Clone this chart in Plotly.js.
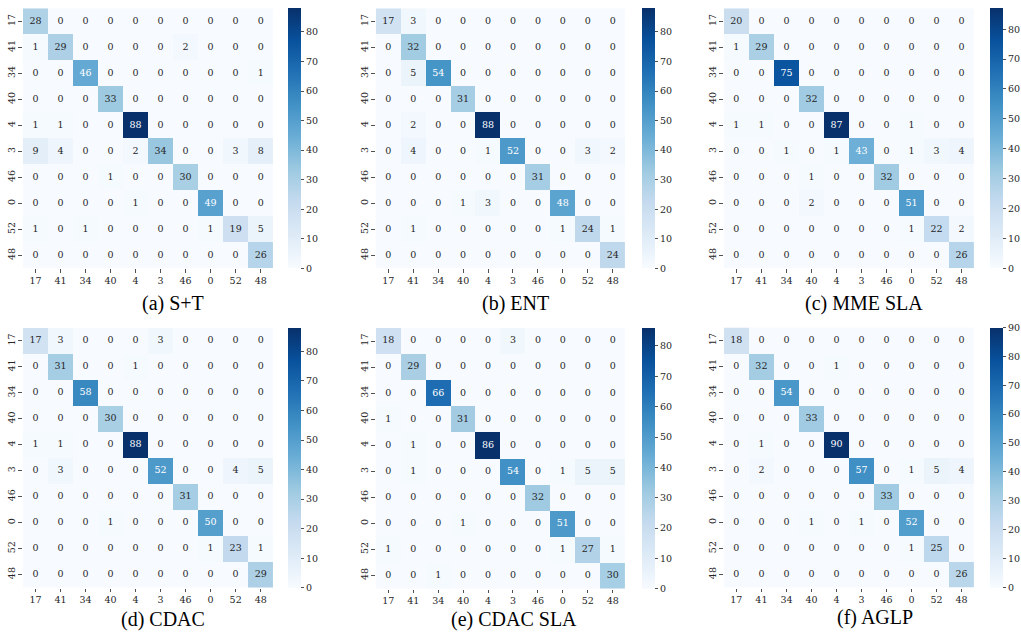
<!DOCTYPE html>
<html>
<head>
<meta charset="utf-8">
<script src="https://cdn.plot.ly/plotly-3.0.1.min.js"></script>
<style>html,body{margin:0;padding:0;background:#fff;}#chart{width:1021px;height:638px;}</style>
</head>
<body>
<div id="chart"></div>
<script>
// ---- data ----
const classLabels = ['17','41','34','40','4','3','46','0','52','48'];

const cmST = [
  [28,0,0,0,0,0,0,0,0,0],
  [1,29,0,0,0,0,2,0,0,0],
  [0,0,46,0,0,0,0,0,0,1],
  [0,0,0,33,0,0,0,0,0,0],
  [1,1,0,0,88,0,0,0,0,0],
  [9,4,0,0,2,34,0,0,3,8],
  [0,0,0,1,0,0,30,0,0,0],
  [0,0,0,0,1,0,0,49,0,0],
  [1,0,1,0,0,0,0,1,19,5],
  [0,0,0,0,0,0,0,0,0,26]
];
const cmENT = [
  [17,3,0,0,0,0,0,0,0,0],
  [0,32,0,0,0,0,0,0,0,0],
  [0,5,54,0,0,0,0,0,0,0],
  [0,0,0,31,0,0,0,0,0,0],
  [0,2,0,0,88,0,0,0,0,0],
  [0,4,0,0,1,52,0,0,3,2],
  [0,0,0,0,0,0,31,0,0,0],
  [0,0,0,1,3,0,0,48,0,0],
  [0,1,0,0,0,0,0,1,24,1],
  [0,0,0,0,0,0,0,0,0,24]
];
const cmMMESLA = [
  [20,0,0,0,0,0,0,0,0,0],
  [1,29,0,0,0,0,0,0,0,0],
  [0,0,75,0,0,0,0,0,0,0],
  [0,0,0,32,0,0,0,0,0,0],
  [1,1,0,0,87,0,0,1,0,0],
  [0,0,1,0,1,43,0,1,3,4],
  [0,0,0,1,0,0,32,0,0,0],
  [0,0,0,2,0,0,0,51,0,0],
  [0,0,0,0,0,0,0,1,22,2],
  [0,0,0,0,0,0,0,0,0,26]
];
const cmCDAC = [
  [17,3,0,0,0,3,0,0,0,0],
  [0,31,0,0,1,0,0,0,0,0],
  [0,0,58,0,0,0,0,0,0,0],
  [0,0,0,30,0,0,0,0,0,0],
  [1,1,0,0,88,0,0,0,0,0],
  [0,3,0,0,0,52,0,0,4,5],
  [0,0,0,0,0,0,31,0,0,0],
  [0,0,0,1,0,0,0,50,0,0],
  [0,0,0,0,0,0,0,1,23,1],
  [0,0,0,0,0,0,0,0,0,29]
];
const cmCDACSLA = [
  [18,0,0,0,0,3,0,0,0,0],
  [0,29,0,0,0,0,0,0,0,0],
  [0,0,66,0,0,0,0,0,0,0],
  [1,0,0,31,0,0,0,0,0,0],
  [0,1,0,0,86,0,0,0,0,0],
  [0,1,0,0,0,54,0,1,5,5],
  [0,0,0,0,0,0,32,0,0,0],
  [0,0,0,1,0,0,0,51,0,0],
  [1,0,0,0,0,0,0,1,27,1],
  [0,0,1,0,0,0,0,0,0,30]
];
const cmAGLP = [
  [18,0,0,0,0,0,0,0,0,0],
  [0,32,0,0,1,0,0,0,0,0],
  [0,0,54,0,0,0,0,0,0,0],
  [0,0,0,33,0,0,0,0,0,0],
  [0,1,0,0,90,0,0,0,0,0],
  [0,2,0,0,0,57,0,1,5,4],
  [0,0,0,0,0,0,33,0,0,0],
  [0,0,0,1,0,1,0,52,0,0],
  [0,0,0,0,0,0,0,1,25,0],
  [0,0,0,0,0,0,0,0,0,26]
];
const captions = ['(a) S+T','(b) ENT','(c) MME SLA','(d) CDAC','(e) CDAC SLA','(f) AGLP'];
const matrices = [cmST, cmENT, cmMMESLA, cmCDAC, cmCDACSLA, cmAGLP];

// ---- layout geometry (pixels) ----
const W = 1021, H = 638;
const panels = [
  {x0:23, x1:274, y0:8.3, y1:268.3, cb:289, capX:173.5, capY:303},
  {x0:377, x1:627, y0:8.3, y1:268.3, cb:644, capX:517.5, capY:303},
  {x0:726, x1:977, y0:8.3, y1:268.3, cb:993.3, capX:866.7, capY:303},
  {x0:23, x1:274, y0:328, y1:587.5, cb:289, capX:163, capY:619},
  {x0:377, x1:627, y0:328, y1:588.5, cb:643.5, capX:516, capY:619},
  {x0:726, x1:977, y0:327.5, y1:587.5, cb:993.3, capX:877.5, capY:617}
];

// matplotlib Blues
const bluesHex = ['#f7fbff','#deebf7','#c6dbef','#9ecae1','#6baed6','#4292c6','#2171b5','#08519c','#08306b'];
const bluesScale = bluesHex.map((c,i)=>[i/(bluesHex.length-1), c]);
function hexToRgb(h){return [parseInt(h.slice(1,3),16)/255,parseInt(h.slice(3,5),16)/255,parseInt(h.slice(5,7),16)/255];}
function bluesAt(t){
  t = Math.max(0, Math.min(1, t));
  const n = bluesHex.length-1;
  const k = Math.min(n-1, Math.floor(t*n));
  const f = t*n - k;
  const a = hexToRgb(bluesHex[k]), b = hexToRgb(bluesHex[k+1]);
  return a.map((v,i)=>v+(b[i]-v)*f);
}
function lum(rgb){
  const l = rgb.map(v => v <= 0.03928 ? v/12.92 : Math.pow((v+0.055)/1.055, 2.4));
  return 0.2126*l[0] + 0.7152*l[1] + 0.0722*l[2];
}

const serif = 'DejaVu Serif, serif';
const tickColor = '#262626';
const idx = classLabels.map((_,i)=>i);
const traces = [];
const layout = {
  width: W, height: H,
  margin: {l:0, r:0, t:0, b:0},
  paper_bgcolor: '#ffffff', plot_bgcolor: '#ffffff',
  showlegend: false,
  annotations: []
};

matrices.forEach((m, p) => {
  const g = panels[p];
  const n = p + 1;
  const xa = 'xaxis' + (n===1?'':n), ya = 'yaxis' + (n===1?'':n);
  const xr = 'x' + (n===1?'':n), yr = 'y' + (n===1?'':n);
  let zmax = 0; m.forEach(r => r.forEach(v => { if (v > zmax) zmax = v; }));

  layout[xa] = {
    domain: [g.x0/W, g.x1/W], anchor: yr, range: [-0.5, 9.5],
    tickmode: 'array', tickvals: idx, ticktext: classLabels,
    ticks: 'outside', ticklen: 3.5, tickwidth: 0.8, tickcolor: tickColor,
    showgrid: false, zeroline: false, showline: false, fixedrange: true,
    tickfont: {family: serif, size: 9.5, color: tickColor}
  };
  layout[ya] = {
    domain: [1 - g.y1/H, 1 - g.y0/H], anchor: xr, range: [9.5, -0.5],
    tickmode: 'array', tickvals: idx, ticktext: classLabels, tickangle: -90,
    ticks: 'outside', ticklen: 3.5, tickwidth: 0.8, tickcolor: tickColor,
    showgrid: false, zeroline: false, showline: false, fixedrange: true,
    tickfont: {family: serif, size: 9.5, color: tickColor}
  };

  traces.push({
    type: 'heatmap', z: m, x: idx, y: idx, xaxis: xr, yaxis: yr,
    colorscale: bluesScale, zmin: 0, zmax: zmax, hoverinfo: 'skip',
    colorbar: {
      x: g.cb/W, xanchor: 'left', xpad: 0, ypad: 0,
      y: 1 - ((g.y0+g.y1)/2)/H, yanchor: 'middle',
      len: (g.y1-g.y0)/H, lenmode: 'fraction',
      thickness: 13, thicknessmode: 'pixels', outlinewidth: 0,
      tick0: 0, dtick: 10, ticks: 'outside', ticklen: 3.5, tickwidth: 0.8, tickcolor: tickColor,
      tickfont: {family: serif, size: 9.5, color: tickColor}
    }
  });

  const tx = [], ty = [], tt = [], tc = [];
  m.forEach((row, i) => row.forEach((v, j) => {
    tx.push(j); ty.push(i); tt.push(String(v));
    tc.push(lum(bluesAt(v/zmax)) < 0.408 ? '#ffffff' : tickColor);
  }));
  traces.push({
    type: 'scatter', mode: 'text', x: tx, y: ty, text: tt, xaxis: xr, yaxis: yr,
    textposition: 'middle center', hoverinfo: 'skip', cliponaxis: false,
    textfont: {family: serif, size: 9.5, color: tc}
  });

  layout.annotations.push({
    xref: 'paper', yref: 'paper', x: g.capX/W, y: 1 - g.capY/H,
    xanchor: 'center', yanchor: 'middle', showarrow: false,
    text: captions[p], font: {family: 'Liberation Serif, Times New Roman, serif', size: 20, color: '#000000'}
  });
});

Plotly.newPlot('chart', traces, layout, {staticPlot: true, displayModeBar: false});
</script>
</body>
</html>
